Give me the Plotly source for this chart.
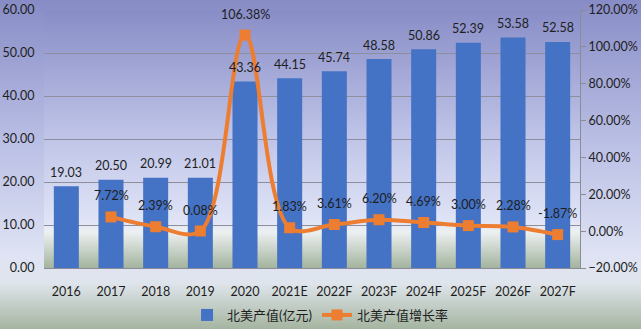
import base64
import plotly.graph_objects as go

years = ["2016", "2017", "2018", "2019", "2020", "2021E", "2022F", "2023F", "2024F", "2025F", "2026F", "2027F"]
output_value = [19.03, 20.50, 20.99, 21.01, 43.36, 44.15, 45.74, 48.58, 50.86, 52.39, 53.58, 52.58]
growth_rate = [None, 7.72, 2.39, 0.08, 106.38, 1.83, 3.61, 6.20, 4.69, 3.00, 2.28, -1.87]

bar_name = "北美产值(亿元)"
line_name = "北美产值增长率"

FONT = "Lato, 'Noto Sans CJK SC', sans-serif"
TXT = "#1e1e1e"


def gradient_uri(stops):
    st = "".join(f'<stop offset="{o}" stop-color="{c}"/>' for o, c in stops)
    svg = ('<svg xmlns="http://www.w3.org/2000/svg" width="100" height="100" preserveAspectRatio="none">'
           '<defs><linearGradient id="g" x1="0" y1="0" x2="0" y2="1">' + st +
           '</linearGradient></defs><rect width="100" height="100" fill="url(#g)"/></svg>')
    return "data:image/svg+xml;base64," + base64.b64encode(svg.encode()).decode()


fig_grad = gradient_uri([(0, "#878cc6"), (0.45, "#bcc1e6"), (0.78, "#dfe3f4"),
                         (0.86, "#dfe5ec"), (1.0, "#a5b5a0")])
plot_grad = gradient_uri([(0, "#888dc7"), (0.5, "#c0c5e8"), (0.82, "#e0e4f6"),
                          (0.86, "#edf0f1"), (1.0, "#a3b49e")])

L, R, T, B = 44, 61, 10, 61
W, H = 641, 329
pw, ph = W - L - R, H - T - B

fig = go.Figure()
fig.add_trace(go.Bar(x=years, y=output_value, name=bar_name, marker_color="#4472c4",
                     marker_line_width=0, yaxis="y"))
fig.add_trace(go.Scatter(x=years, y=growth_rate, name=line_name, yaxis="y2",
                         mode="lines+markers",
                         line=dict(color="#ed7d31", width=4, shape="spline", smoothing=1.0),
                         marker=dict(symbol="square", size=11, color="#ed7d31"),
                         connectgaps=False))

annotations = []
for i, v in enumerate(output_value):
    annotations.append(dict(x=i, y=v, xref="x", yref="y", text=f"{v:.2f}", showarrow=False,
                            yshift=14, font=dict(family=FONT, size=12.5, color=TXT)))
for i, v in enumerate(growth_rate):
    if v is None:
        continue
    annotations.append(dict(x=i, y=v, xref="x", yref="y2", text=f"{v:.2f}%", showarrow=False,
                            yshift=21, font=dict(family=FONT, size=12.5, color=TXT)))

fig.update_layout(
    width=W, height=H,
    margin=dict(l=L, r=R, t=T, b=B, autoexpand=False),
    paper_bgcolor="#d8dcef",
    plot_bgcolor="rgba(0,0,0,0)",
    font=dict(family=FONT, size=12.5, color=TXT),
    bargap=0.44,
    showlegend=True,
    legend=dict(orientation="h", x=0.515, xanchor="center", yref="container",
                y=(H - 315) / H, yanchor="middle",
                bgcolor="rgba(0,0,0,0)", font=dict(family=FONT, size=13, color=TXT),
                itemwidth=30, tracegroupgap=0),
    xaxis=dict(type="category", categoryorder="array", categoryarray=years,
               range=[-0.5, len(years) - 0.5], autorange=False, automargin=False,
               showgrid=False, showline=True, linecolor="#8c8c98", linewidth=1,
               ticks="outside", ticklen=12, tickcolor="rgba(0,0,0,0)",
               tickfont=dict(family=FONT, size=12.5, color=TXT)),
    yaxis=dict(range=[0, 60], dtick=10, tickformat=".2f", showgrid=True, automargin=False,
               gridcolor="#8e8e9c", gridwidth=1, zeroline=False, showline=False,
               ticks="outside", ticklen=6, tickcolor="rgba(0,0,0,0)",
               tickfont=dict(family=FONT, size=12.5, color=TXT)),
    yaxis2=dict(range=[-20, 120], dtick=20, tickformat=".2f", ticksuffix="%", automargin=False,
                overlaying="y", side="right", showgrid=False, zeroline=False,
                showline=True, linecolor="#8c8c98", linewidth=1,
                ticks="outside", ticklen=5, tickcolor="#8c8c98",
                tickfont=dict(family=FONT, size=12.5, color=TXT)),
    annotations=annotations,
    images=[
        dict(source=fig_grad, xref="paper", yref="paper", x=-L / pw, y=1 + T / ph,
             sizex=W / pw, sizey=H / ph, sizing="stretch", xanchor="left", yanchor="top",
             layer="below"),
        dict(source=plot_grad, xref="paper", yref="paper", x=0, y=1, sizex=1, sizey=1,
             sizing="stretch", xanchor="left", yanchor="top", layer="below"),
    ],
)

fig.write_html("out.html")
